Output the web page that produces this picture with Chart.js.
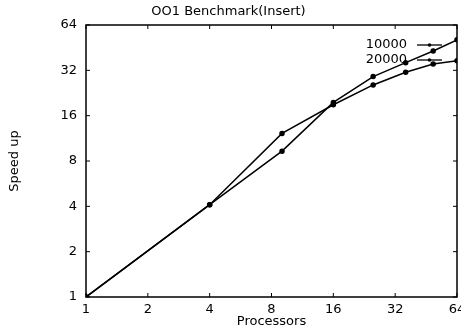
<!DOCTYPE html>
<html>
<head>
<meta charset="utf-8">
<script src="https://cdn.jsdelivr.net/npm/chart.js@4.4.1/dist/chart.umd.min.js"></script>
<style>
html,body{margin:0;padding:0;background:#fff;}
#wrap{width:461px;height:333px;}
</style>
</head>
<body>
<div id="wrap"><canvas id="c" width="461" height="333"></canvas></div>
<script>
const processors = [1, 4, 9, 16, 25, 36, 49, 64];
const speedup10000 = [1, 4.1, 9.3, 19.6, 29.1, 36, 43, 51];
const speedup20000 = [1, 4.1, 12.2, 18.9, 25.6, 31.1, 35.2, 37];
const tickValues = [1, 2, 4, 8, 16, 32, 64];
const seriesNames = ['10000', '20000'];

const FONT = "'DejaVu Sans', 'Liberation Sans', Arial, sans-serif";

const framePlugin = {
  id: 'frame',
  afterDraw(chart) {
    const ctx = chart.ctx;
    const a = chart.chartArea;
    const xs = chart.scales.x, ys = chart.scales.y;
    ctx.save();
    ctx.strokeStyle = '#000';
    ctx.lineWidth = 1.5;
    ctx.strokeRect(a.left, a.top, a.right - a.left, a.bottom - a.top);
    ctx.lineWidth = 1;
    const tl = 4;
    tickValues.forEach(v => {
      const px = xs.getPixelForValue(v);
      ctx.beginPath();
      ctx.moveTo(px, a.bottom); ctx.lineTo(px, a.bottom - tl);
      ctx.moveTo(px, a.top); ctx.lineTo(px, a.top + tl);
      ctx.stroke();
      const py = ys.getPixelForValue(v);
      ctx.beginPath();
      ctx.moveTo(a.left, py); ctx.lineTo(a.left + tl, py);
      ctx.moveTo(a.right, py); ctx.lineTo(a.right - tl, py);
      ctx.stroke();
    });
    // legend
    ctx.font = "13px " + FONT;
    ctx.fillStyle = '#000';
    ctx.textAlign = 'right';
    ctx.textBaseline = 'middle';
    const lx = 407, ly = [45, 60];
    seriesNames.forEach((n, i) => {
      ctx.fillText(n, lx, ly[i]);
      ctx.lineWidth = 1.3;
      ctx.beginPath();
      ctx.moveTo(417, ly[i]); ctx.lineTo(442, ly[i]);
      ctx.stroke();
      ctx.beginPath();
      ctx.arc(429.5, ly[i], 1.8, 0, Math.PI * 2);
      ctx.fill();
    });
    ctx.restore();
  }
};

const ds = (label, data) => ({
  label,
  data: processors.map((p, i) => ({x: p, y: data[i]})),
  borderColor: '#000',
  backgroundColor: '#000',
  borderWidth: 1.5,
  pointRadius: 2,
  pointHoverRadius: 2,
  tension: 0,
  fill: false
});

new Chart(document.getElementById('c'), {
  type: 'line',
  data: { datasets: [ds(seriesNames[0], speedup10000), ds(seriesNames[1], speedup20000)] },
  options: {
    responsive: false,
    animation: false,
    events: [],
    layout: { padding: { left: 0, right: 4, top: 0, bottom: 0 } },
    plugins: {
      legend: { display: false },
      tooltip: { enabled: false },
      title: {
        display: true,
        text: 'OO1 Benchmark(Insert)',
        color: '#000',
        font: { family: FONT, size: 13, weight: 'normal', lineHeight: 1.2 },
        padding: { top: 4, bottom: 5.4 }
      }
    },
    scales: {
      x: {
        type: 'logarithmic',
        min: 1, max: 64,
        afterBuildTicks: s => { s.ticks = tickValues.map(v => ({value: v})); },
        afterFit: s => { s.height = 36; s.paddingRight = 0; s.paddingLeft = 0; },
        grid: { display: false, drawTicks: false },
        border: { display: false },
        ticks: {
          color: '#000', padding: 5, maxRotation: 0, autoSkip: false,
          font: { family: FONT, size: 13 },
          callback: v => String(v)
        },
        title: {
          display: true, text: 'Processors', color: '#000',
          font: { family: FONT, size: 13, lineHeight: 1.2 },
          padding: { top: 0, bottom: 4 }
        }
      },
      y: {
        type: 'logarithmic',
        min: 1, max: 64,
        afterBuildTicks: s => { s.ticks = tickValues.map(v => ({value: v})); },
        afterFit: s => { s.width = 86; s.paddingTop = 0; s.paddingBottom = 0; },
        grid: { display: false, drawTicks: false },
        border: { display: false },
        ticks: {
          color: '#000', padding: 9, autoSkip: false,
          font: { family: FONT, size: 13 },
          callback: v => String(v)
        },
        title: {
          display: true, text: 'Speed up', color: '#000',
          font: { family: FONT, size: 13, lineHeight: 1.2 },
          padding: { top: 7, bottom: 0 }
        }
      }
    }
  },
  plugins: [framePlugin]
});
</script>
</body>
</html>
